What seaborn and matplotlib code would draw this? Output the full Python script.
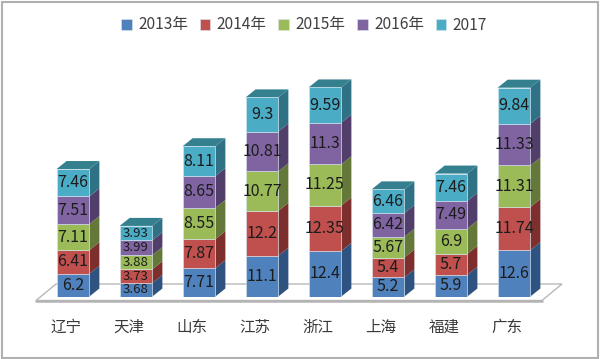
import numpy as np
import pandas as pd
import matplotlib
matplotlib.use("Agg")
import matplotlib.pyplot as plt
from matplotlib.patches import Polygon, Rectangle
from matplotlib.transforms import ScaledTranslation
import seaborn as sns

# chart data
provinces = ["辽宁", "天津", "山东", "江苏", "浙江", "上海", "福建", "广东"]
years = ["2013年", "2014年", "2015年", "2016年", "2017"]
v2013 = [6.2, 3.68, 7.71, 11.1, 12.4, 5.2, 5.9, 12.6]
v2014 = [6.41, 3.73, 7.87, 12.2, 12.35, 5.4, 5.7, 11.74]
v2015 = [7.11, 3.88, 8.55, 10.77, 11.25, 5.67, 6.9, 11.31]
v2016 = [7.51, 3.99, 8.65, 10.81, 11.3, 6.42, 7.49, 11.33]
v2017 = [7.46, 3.93, 8.11, 9.3, 9.59, 6.46, 7.46, 9.84]

front_colors = ["#4F81BD", "#C0504D", "#9BBB59", "#8064A2", "#4BACC6"]
side_colors = ["#2F5380", "#7C2F2D", "#64783A", "#513E6B", "#2F7286"]
top_color = "#35808F"

sns.set_theme(style="white")
plt.rcParams["font.family"] = ["Noto Sans CJK SC", "DejaVu Sans"]

W, H = 600, 359
fig = plt.figure(figsize=(6, 3.59), dpi=100)

# axes box in pixels of the target image
left, right, top, base = 36, 562, 70, 296.5
ax = fig.add_axes([left / W, 1 - base / H, (right - left) / W, (base - top) / H])

cat_px = 63.0    # pixels per category
val_px = 3.675   # pixels per value unit
x_min = (left - 73) / cat_px
x_max = (right - 73) / cat_px
y_max = (base - top) / val_px

df = pd.DataFrame({"province": provinces, "2013年": v2013, "2014年": v2014,
                   "2015年": v2015, "2016年": v2016, "2017": v2017})

bottom = np.zeros(len(provinces))
for year, col in zip(years, front_colors):
    sns.barplot(data=df, x="province", y=year, color=col, saturation=1, width=0.52,
                bottom=bottom, ax=ax, label=year, zorder=3,
                edgecolor="#dbe6f0", linewidth=0.4)
    bottom = bottom + df[year].values

ax.set_xlim(x_min, x_max)
ax.set_ylim(0, y_max)

# fake 3d depth, 10 px across and 8 px up
dx = 10 / cat_px
dy = 8 / val_px
for i, cont in enumerate(ax.containers):
    for bar in cont:
        x0, y0 = bar.get_x(), bar.get_y()
        w, h = bar.get_width(), bar.get_height()
        side = [(x0 + w, y0), (x0 + w + dx, y0 + dy), (x0 + w + dx, y0 + h + dy), (x0 + w, y0 + h)]
        ax.add_patch(Polygon(side, closed=True, facecolor=side_colors[i], edgecolor="none",
                             zorder=2, clip_on=False))
        if i == len(years) - 1:
            lid = [(x0, y0 + h), (x0 + dx, y0 + h + dy), (x0 + w + dx, y0 + h + dy), (x0 + w, y0 + h)]
            ax.add_patch(Polygon(lid, closed=True, facecolor=top_color, edgecolor="none",
                                 zorder=2, clip_on=False))
    texts = ax.bar_label(cont, fmt="%g", label_type="center", fontsize=11.5, color="#1c1c1c", zorder=5)
    # tianjin segments are short, labels have to be smaller there
    texts[1].set_fontsize(9.5)

# floor of the 3d chart
floor_y0 = -4 / val_px
floor_y1 = 12.5 / val_px
floor_x = [0, (542 - left) / cat_px, (right - left) / cat_px, 20 / cat_px]
floor = [(x_min + floor_x[0], floor_y0), (x_min + floor_x[1], floor_y0),
         (x_min + floor_x[2], floor_y1), (x_min + floor_x[3], floor_y1)]
ax.add_patch(Polygon(floor, closed=True, facecolor="white", edgecolor="#b8b8b8",
                     linewidth=1.0, zorder=1, clip_on=False))
ax.plot([floor[0][0], floor[1][0]], [floor_y0, floor_y0], color="#b4b4b4", lw=1.8,
        zorder=1, clip_on=False)

sns.despine(ax=ax, left=True, bottom=True)
ax.set_xlabel("")
ax.set_ylabel("")
ax.set_yticks([])
ax.tick_params(axis="x", length=0, pad=16, labelsize=11.2, labelcolor="#3a3a3a")
# category labels sit a bit left of the bars
shift = ScaledTranslation(-7 / 100, 0, fig.dpi_scale_trans)
for lab in ax.get_xticklabels():
    lab.set_transform(lab.get_transform() + shift)
ax.patch.set_alpha(0)

ax.legend(loc="center", bbox_to_anchor=(304 / W, 1 - 25 / H), bbox_transform=fig.transFigure,
          ncol=5, frameon=False, fontsize=11.2, labelcolor="#404040",
          handlelength=0.7, handleheight=0.7, handletextpad=0.4, columnspacing=0.75)

# grey frame around the image
fig.add_artist(Rectangle((1.5 / W, 1.5 / H), 596 / W, 356 / H, transform=fig.transFigure,
                         fill=False, edgecolor="#b0b0b0", linewidth=1.5))

fig.savefig("out.png", dpi=100)
